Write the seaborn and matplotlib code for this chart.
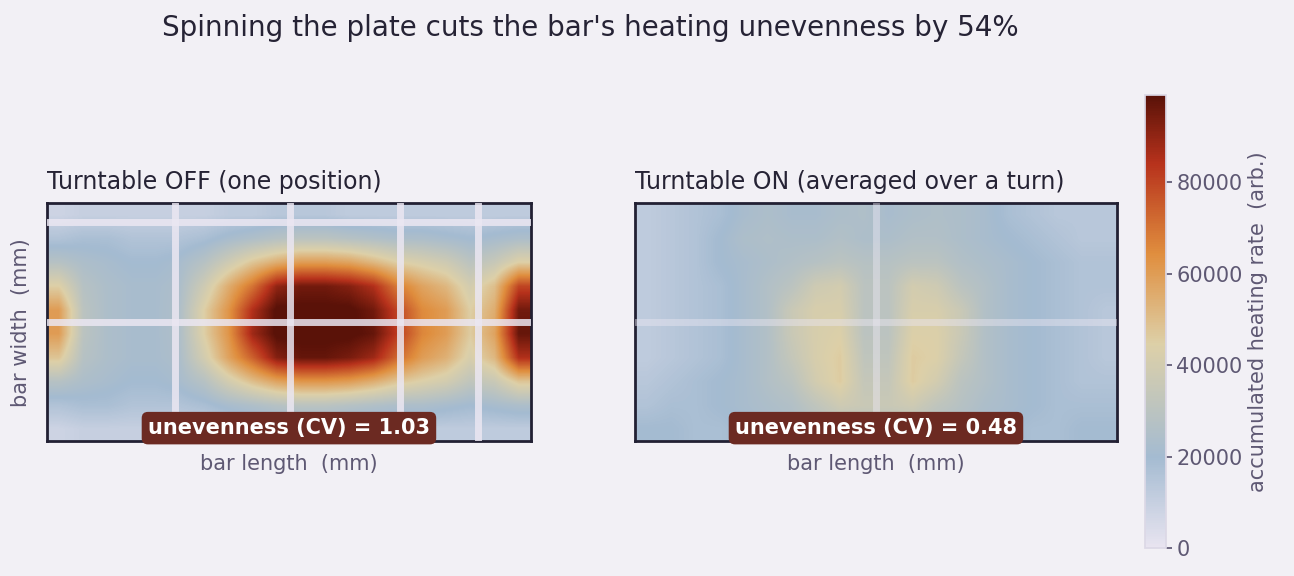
import numpy as np
import matplotlib
matplotlib.use("Agg")
import matplotlib.pyplot as plt
import seaborn as sns
from matplotlib.colors import LinearSegmentedColormap

# heating values in thousands (arb.), rows top -> bottom
off_rows = [
    [8,10,10,10,10,10,10,12,12,14,14,14,12,12,12,12,12,12,12,12],
    [16,18,18,16,16,16,18,22,25,28,30,30,28,26,24,24,22,20,22,24],
    [28,24,22,20,20,22,28,38,48,55,60,60,58,52,45,42,38,30,35,45],
    [45,28,24,22,22,24,38,55,70,90,95,95,92,85,68,58,52,40,50,80],
    [60,30,24,22,22,25,45,62,85,100,100,100,100,95,80,65,60,45,55,95],
    [60,30,24,22,22,25,45,62,88,100,100,100,100,97,82,66,60,46,58,97],
    [48,28,24,22,22,24,40,58,74,92,97,97,94,88,72,60,54,42,52,85],
    [28,24,22,20,20,22,28,40,50,58,62,62,60,55,48,44,40,32,36,48],
    [16,18,18,16,16,16,18,22,25,28,30,30,28,26,24,24,22,20,22,24],
    [8,10,10,10,10,10,10,12,12,14,14,14,12,12,12,12,12,12,12,12],
]
on_rows = [
    [12,14,16,18,22,24,22,22,24,25,22,24,25,24,22,18,16,14,14,14],
    [12,14,16,20,24,25,24,24,26,24,24,26,26,24,22,20,18,16,14,14],
    [12,14,16,20,22,24,26,28,30,28,28,30,30,26,24,22,20,18,16,16],
    [12,14,16,18,22,26,30,38,40,30,30,40,38,30,26,22,20,18,16,16],
    [12,14,16,18,22,26,36,42,42,30,30,42,42,36,26,22,20,18,16,14],
    [12,14,16,18,22,26,36,42,44,30,30,44,44,36,26,22,20,18,16,14],
    [12,14,16,18,22,26,34,42,46,32,32,46,44,34,26,22,20,18,16,14],
    [14,16,18,20,22,26,30,40,46,34,34,46,40,30,26,22,20,18,16,16],
    [16,18,18,20,22,24,26,32,38,36,36,38,32,28,24,22,20,18,18,18],
    [20,20,18,18,20,22,24,26,28,28,28,28,26,24,22,20,18,18,20,20],
]
titles = ["Turntable OFF (one position)", "Turntable ON (averaged over a turn)"]
cv_values = [1.03, 0.48]
grid_x_off = [0.264, 0.502, 0.729, 0.89]
grid_y_off = [0.5, 0.92]
grid_x_on = [0.5]
grid_y_on = [0.5]
cbar_ticks = [0, 20000, 40000, 60000, 80000]
vmax = 99000

sns.set_theme(style="darkgrid")
bg = "#f2f0f5"
plt.rcParams["font.family"] = ["DejaVu Sans"]

cmap = LinearSegmentedColormap.from_list("heat", [
    (0.0, "#e8e4f0"), (0.2, "#a4bbd1"), (0.45, "#ddd0a8"), (0.65, "#e08e3e"),
    (0.85, "#b7321c"), (1.0, "#5a1208")])

fig = plt.figure(figsize=(12.94, 5.76), dpi=100, facecolor=bg)
axes = [fig.add_axes([0.0363, 0.234, 0.374, 0.413]),
        fig.add_axes([0.4907, 0.234, 0.3725, 0.413])]
label_c = "#5e5873"
grids = [(grid_x_off, grid_y_off, 0.85), (grid_x_on, grid_y_on, 0.45)]
for ax, rows, t, cv, (gx, gy, ga) in zip(axes, [off_rows, on_rows], titles, cv_values, grids):
    data = np.array(rows) * 1000.0
    im = ax.imshow(data, cmap=cmap, vmin=0, vmax=vmax, extent=(0, 1, 0, 1),
                   aspect="auto", interpolation="bilinear", origin="upper")
    ax.set_xlim(0, 1); ax.set_ylim(0, 1)
    ax.set_xticks(gx); ax.set_yticks(gy)
    ax.set_xticklabels([]); ax.set_yticklabels([])
    ax.tick_params(length=0)
    ax.set_axisbelow(False)
    ax.grid(True, color="#ebe7f2", lw=5, alpha=ga)
    for s in ax.spines.values():
        s.set_visible(True); s.set_color("#222033"); s.set_linewidth(2)
    ax.set_title(t, loc="left", fontsize=17, color="#262335", pad=10)
    ax.set_xlabel("bar length  (mm)", fontsize=15, color=label_c, labelpad=6)
    ax.text(0.5, 0.055, f"unevenness (CV) = {cv:.2f}", transform=ax.transAxes,
            ha="center", va="center", fontsize=15, fontweight="bold", color="white",
            bbox=dict(boxstyle="round,pad=0.3", fc="#6c2a22", ec="none"))
axes[0].set_ylabel("bar width  (mm)", fontsize=15, color=label_c, labelpad=8)

cax = fig.add_axes([0.885, 0.0486, 0.016, 0.786])
cb = fig.colorbar(im, cax=cax, ticks=cbar_ticks)
cb.outline.set_edgecolor("#dcd8e6")
cax.tick_params(labelsize=15, colors=label_c, length=4)
cb.set_label("accumulated heating rate  (arb.)", fontsize=15, color=label_c)

fig.suptitle("Spinning the plate cuts the bar's heating unevenness by 54%",
             x=0.456, y=0.975, fontsize=20, color="#262335")
fig.savefig("out.png", dpi=100, facecolor=bg)
